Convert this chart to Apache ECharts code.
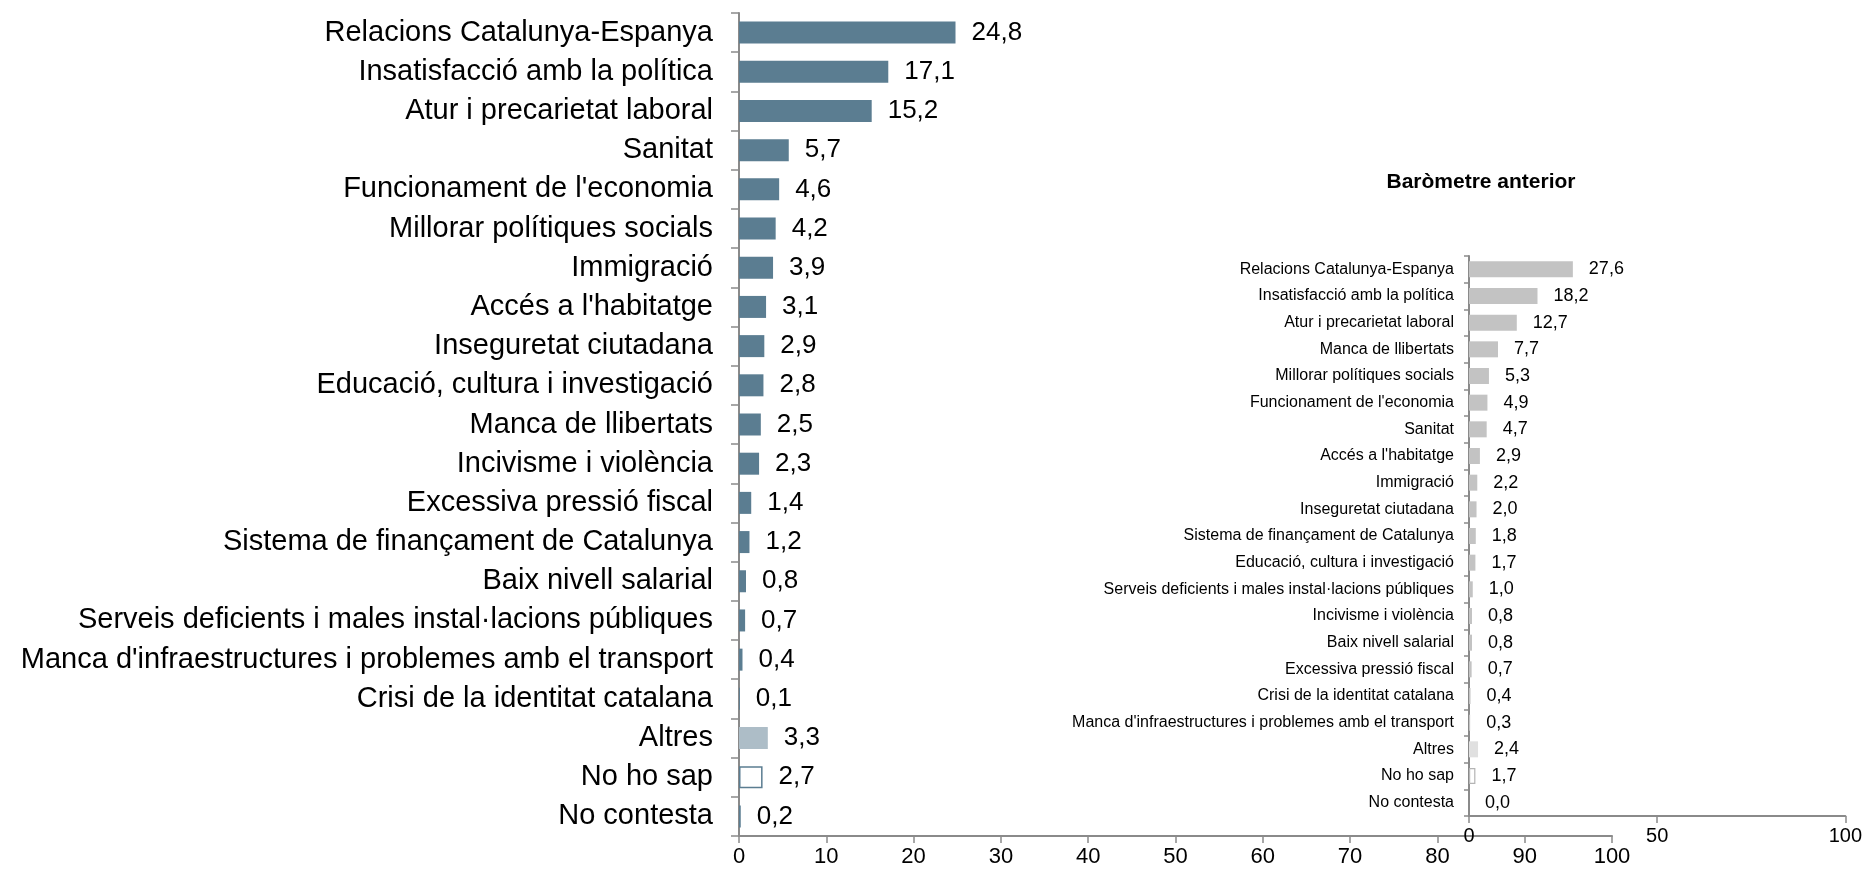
<!DOCTYPE html>
<html>
<head>
<meta charset="utf-8">
<script src="https://cdn.jsdelivr.net/npm/echarts@6/dist/echarts.min.js"></script>
<style>
html,body{margin:0;padding:0;background:#fff;}
#chart{width:1865px;height:869px;}
</style>
</head>
<body>
<div id="chart"></div>
<script>
// ---- data ----
const currentCategories = [
  "Relacions Catalunya-Espanya",
  "Insatisfacció amb la política",
  "Atur i precarietat laboral",
  "Sanitat",
  "Funcionament de l'economia",
  "Millorar polítiques socials",
  "Immigració",
  "Accés a l'habitatge",
  "Inseguretat ciutadana",
  "Educació, cultura i investigació",
  "Manca de llibertats",
  "Incivisme i violència",
  "Excessiva pressió fiscal",
  "Sistema de finançament de Catalunya",
  "Baix nivell salarial",
  "Serveis deficients i males instal·lacions públiques",
  "Manca d'infraestructures i problemes amb el transport",
  "Crisi de la identitat catalana",
  "Altres",
  "No ho sap",
  "No contesta"
];
const currentValues = [24.8, 17.1, 15.2, 5.7, 4.6, 4.2, 3.9, 3.1, 2.9, 2.8, 2.5, 2.3, 1.4, 1.2, 0.8, 0.7, 0.4, 0.1, 3.3, 2.7, 0.2];

const previousCategories = [
  "Relacions Catalunya-Espanya",
  "Insatisfacció amb la política",
  "Atur i precarietat laboral",
  "Manca de llibertats",
  "Millorar polítiques socials",
  "Funcionament de l'economia",
  "Sanitat",
  "Accés a l'habitatge",
  "Immigració",
  "Inseguretat ciutadana",
  "Sistema de finançament de Catalunya",
  "Educació, cultura i investigació",
  "Serveis deficients i males instal·lacions públiques",
  "Incivisme i violència",
  "Baix nivell salarial",
  "Excessiva pressió fiscal",
  "Crisi de la identitat catalana",
  "Manca d'infraestructures i problemes amb el transport",
  "Altres",
  "No ho sap",
  "No contesta"
];
const previousValues = [27.6, 18.2, 12.7, 7.7, 5.3, 4.9, 4.7, 2.9, 2.2, 2.0, 1.8, 1.7, 1.0, 0.8, 0.8, 0.7, 0.4, 0.3, 2.4, 1.7, 0.0];

const leftTicks = { min: 0, max: 100, interval: 10 };
const rightTicks = { min: 0, max: 100, interval: 50 };
const previousTitle = "Baròmetre anterior";

// ---- styles ----
const FONT = "'Liberation Sans', Arial, sans-serif";
const AXIS = '#8a8a8a';
function styleCurrent(cat) {
  if (cat === 'Altres') return { color: '#adbdc7' };
  if (cat === 'No ho sap') return { color: '#ffffff', borderColor: '#5b7d91', borderWidth: 1.5 };
  return { color: '#5b7d91' };
}
function stylePrev(cat) {
  if (cat === 'Altres') return { color: '#e0e0e0' };
  if (cat === 'No ho sap') return { color: '#ffffff', borderColor: '#b4b4b4', borderWidth: 1.2 };
  return { color: '#c3c3c3' };
}
const fmt = p => p.value.toFixed(1).replace('.', ',');

const chart = echarts.init(document.getElementById('chart'), null, { renderer: 'canvas' });
chart.setOption({
  animation: false,
  backgroundColor: '#ffffff',
  title: {
    text: previousTitle,
    left: 1476, top: 167, textAlign: 'center',
    textStyle: { fontFamily: FONT, fontSize: 21, fontWeight: 'bold', color: '#000' }
  },
  grid: [
    { left: 739, top: 13, width: 873, height: 823, containLabel: false },
    { left: 1469, top: 256, width: 377, height: 560, containLabel: false }
  ],
  xAxis: [
    {
      gridIndex: 0, type: 'value', min: leftTicks.min, max: leftTicks.max, interval: leftTicks.interval,
      splitLine: { show: false },
      axisLine: { show: true, lineStyle: { color: AXIS, width: 2 } },
      axisTick: { show: true, length: 7, lineStyle: { color: AXIS, width: 1.5 } },
      axisLabel: { margin: 10, fontFamily: FONT, fontSize: 22, color: '#000' }
    },
    {
      gridIndex: 1, type: 'value', min: rightTicks.min, max: rightTicks.max, interval: rightTicks.interval,
      splitLine: { show: false },
      axisLine: { show: true, lineStyle: { color: AXIS, width: 2 } },
      axisTick: { show: true, length: 7, lineStyle: { color: AXIS, width: 1.5 } },
      axisLabel: { margin: 10, fontFamily: FONT, fontSize: 20, color: '#000' }
    }
  ],
  yAxis: [
    {
      gridIndex: 0, type: 'category', data: currentCategories, inverse: true,
      axisLine: { show: true, lineStyle: { color: AXIS, width: 2 } },
      axisTick: { show: true, length: 8, lineStyle: { color: AXIS, width: 1.5 } },
      axisLabel: { margin: 26, fontFamily: FONT, fontSize: 29, color: '#000', interval: 0 }
    },
    {
      gridIndex: 1, type: 'category', data: previousCategories, inverse: true,
      axisLine: { show: true, lineStyle: { color: AXIS, width: 2 } },
      axisTick: { show: true, length: 5, lineStyle: { color: AXIS, width: 1.5 } },
      axisLabel: { margin: 15, fontFamily: FONT, fontSize: 16, color: '#000', interval: 0 }
    }
  ],
  series: [
    {
      type: 'bar', xAxisIndex: 0, yAxisIndex: 0, barWidth: 22,
      data: currentValues.map((v, i) => ({ value: v, itemStyle: styleCurrent(currentCategories[i]) })),
      label: { show: true, position: 'right', distance: 16, formatter: fmt, fontFamily: FONT, fontSize: 26, color: '#000' }
    },
    {
      type: 'bar', xAxisIndex: 1, yAxisIndex: 1, barWidth: 16,
      data: previousValues.map((v, i) => ({ value: v, itemStyle: stylePrev(previousCategories[i]) })),
      label: { show: true, position: 'right', distance: 16, formatter: fmt, fontFamily: FONT, fontSize: 18, color: '#000' }
    }
  ]
});
</script>
</body>
</html>
